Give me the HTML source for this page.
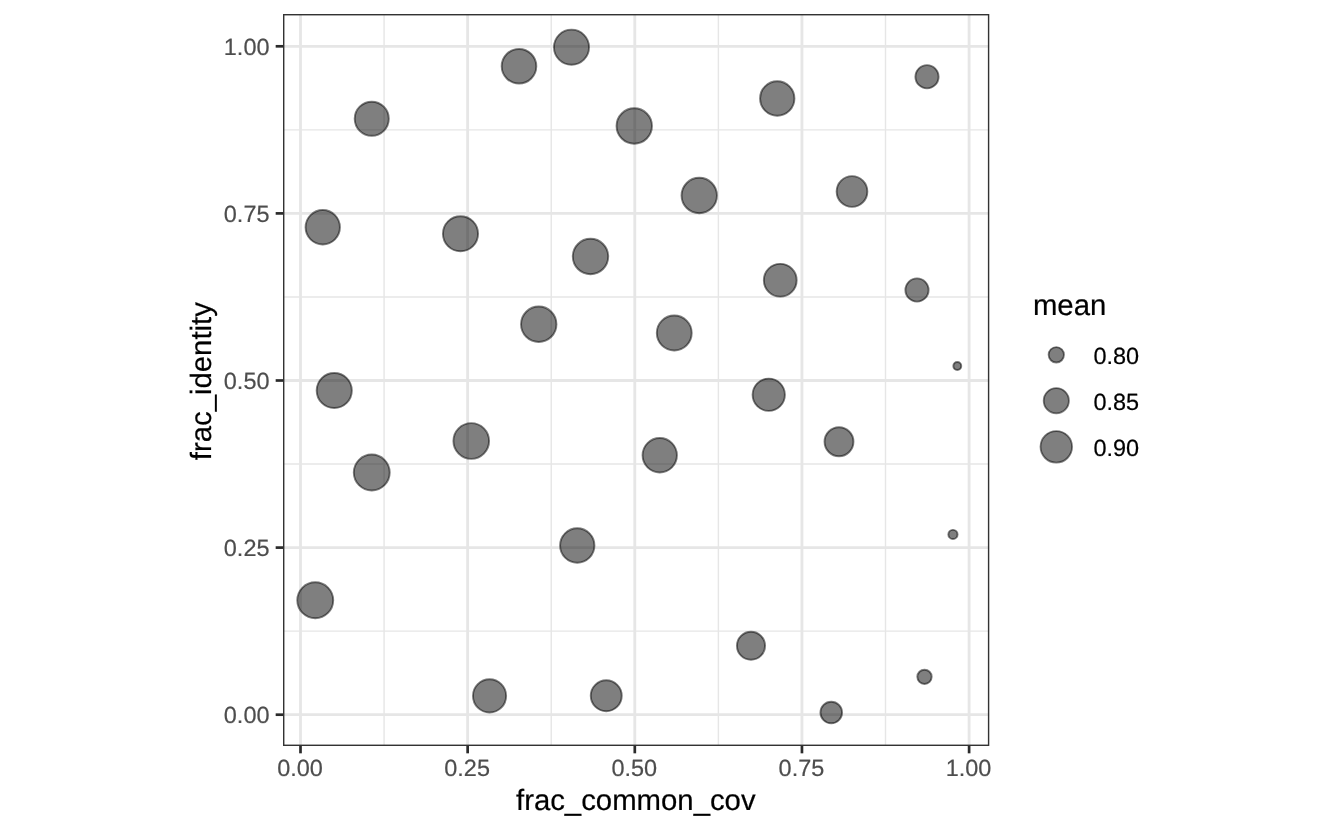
<!DOCTYPE html>
<html lang="en"><head><meta charset="utf-8"><title>plot</title>
<style>html,body{margin:0;padding:0;background:#fff}body{width:1344px;height:830px;overflow:hidden}svg{display:block}text{font-family:"Liberation Sans",Arial,Helvetica,sans-serif;text-rendering:geometricPrecision}</style></head><body>
<svg width="1344" height="830" viewBox="0 0 1344 830">
<rect width="1344" height="830" fill="#fff"/>
<defs><clipPath id="p"><rect x="283.0" y="14.0" width="706.30" height="732.00"/></clipPath></defs>
<g clip-path="url(#p)">
<g stroke="#e6e6e6" stroke-width="1.42">
<line x1="384.07" x2="384.07" y1="14.0" y2="746.0"/>
<line x1="551.23" x2="551.23" y1="14.0" y2="746.0"/>
<line x1="718.38" x2="718.38" y1="14.0" y2="746.0"/>
<line x1="885.52" x2="885.52" y1="14.0" y2="746.0"/>
<line y1="129.85" y2="129.85" x1="283.0" x2="989.3"/>
<line y1="296.95" y2="296.95" x1="283.0" x2="989.3"/>
<line y1="464.05" y2="464.05" x1="283.0" x2="989.3"/>
<line y1="631.15" y2="631.15" x1="283.0" x2="989.3"/>
</g><g stroke="#e6e6e6" stroke-width="2.84">
<line x1="300.50" x2="300.50" y1="14.0" y2="746.0"/>
<line x1="467.65" x2="467.65" y1="14.0" y2="746.0"/>
<line x1="634.80" x2="634.80" y1="14.0" y2="746.0"/>
<line x1="801.95" x2="801.95" y1="14.0" y2="746.0"/>
<line x1="969.10" x2="969.10" y1="14.0" y2="746.0"/>
<line y1="46.30" y2="46.30" x1="283.0" x2="989.3"/>
<line y1="213.40" y2="213.40" x1="283.0" x2="989.3"/>
<line y1="380.50" y2="380.50" x1="283.0" x2="989.3"/>
<line y1="547.60" y2="547.60" x1="283.0" x2="989.3"/>
<line y1="714.70" y2="714.70" x1="283.0" x2="989.3"/>
</g>
<g fill="#000" fill-opacity="0.5" stroke="#000" stroke-opacity="0.5" stroke-width="1.9">
<circle cx="571.5" cy="47.2" r="17.54"/>
<circle cx="519" cy="66.25" r="17.31"/>
<circle cx="371.75" cy="118.75" r="17.05"/>
<circle cx="634.25" cy="126" r="17.70"/>
<circle cx="777.25" cy="98.5" r="17.18"/>
<circle cx="699.25" cy="195.5" r="17.70"/>
<circle cx="852" cy="191.5" r="15.36"/>
<circle cx="927" cy="76.75" r="11.59"/>
<circle cx="322.75" cy="227.25" r="17.18"/>
<circle cx="460.5" cy="233.75" r="17.57"/>
<circle cx="590.5" cy="256.5" r="17.70"/>
<circle cx="538.75" cy="324.25" r="17.70"/>
<circle cx="334.25" cy="390.5" r="17.57"/>
<circle cx="780.25" cy="280.25" r="16.40"/>
<circle cx="674.25" cy="333" r="17.44"/>
<circle cx="768.75" cy="394.75" r="16.14"/>
<circle cx="917" cy="290" r="11.59"/>
<circle cx="957.3" cy="366.0" r="3.95"/>
<circle cx="471.25" cy="441" r="17.83"/>
<circle cx="371.75" cy="472.5" r="17.96"/>
<circle cx="577.25" cy="545.5" r="17.18"/>
<circle cx="315.25" cy="600.25" r="17.96"/>
<circle cx="659.75" cy="455.25" r="17.18"/>
<circle cx="839" cy="441.75" r="14.45"/>
<circle cx="952.95" cy="534.45" r="4.60"/>
<circle cx="489.55" cy="695.9" r="16.58"/>
<circle cx="606.25" cy="695.75" r="15.49"/>
<circle cx="751" cy="645.75" r="14.06"/>
<circle cx="831.25" cy="712.5" r="10.81"/>
<circle cx="924.5" cy="676.85" r="7.17"/>
</g>
<rect x="283.0" y="14.0" width="706.30" height="732.00" fill="none" stroke="#333" stroke-width="2.84"/>
</g>
<g stroke="#2b2b2b" stroke-width="2.7">
<line x1="275.67" x2="283.0" y1="46.30" y2="46.30"/>
<line x1="275.67" x2="283.0" y1="213.40" y2="213.40"/>
<line x1="275.67" x2="283.0" y1="380.50" y2="380.50"/>
<line x1="275.67" x2="283.0" y1="547.60" y2="547.60"/>
<line x1="275.67" x2="283.0" y1="714.70" y2="714.70"/>
<line y1="746.0" y2="753.33" x1="300.50" x2="300.50"/>
<line y1="746.0" y2="753.33" x1="467.65" x2="467.65"/>
<line y1="746.0" y2="753.33" x1="634.80" x2="634.80"/>
<line y1="746.0" y2="753.33" x1="801.95" x2="801.95"/>
<line y1="746.0" y2="753.33" x1="969.10" x2="969.10"/>
</g>
<g font-size="23.47" fill="#4d4d4d" stroke="#4d4d4d" stroke-width="0.2">
<text x="269.5" y="54.80" text-anchor="end">1.00</text>
<text x="269.5" y="221.90" text-anchor="end">0.75</text>
<text x="269.5" y="389.00" text-anchor="end">0.50</text>
<text x="269.5" y="556.10" text-anchor="end">0.25</text>
<text x="269.5" y="723.20" text-anchor="end">0.00</text>
<text x="300.00" y="776.4" text-anchor="middle">0.00</text>
<text x="467.15" y="776.4" text-anchor="middle">0.25</text>
<text x="634.30" y="776.4" text-anchor="middle">0.50</text>
<text x="801.45" y="776.4" text-anchor="middle">0.75</text>
<text x="968.60" y="776.4" text-anchor="middle">1.00</text>
</g>
<g font-size="29.33" fill="#000" stroke="#000" stroke-width="0.2">
<text x="635.8" y="809.9" text-anchor="middle">frac_common_cov</text>
<text transform="translate(210.6,381.2) rotate(-90)" text-anchor="middle">frac_identity</text>
<text x="1032.9" y="315.1">mean</text>
</g>
<g fill="#000" fill-opacity="0.5" stroke="#000" stroke-opacity="0.5" stroke-width="1.8">
<circle cx="1056.3" cy="354.8" r="7.70"/>
<circle cx="1056.3" cy="400.7" r="12.60"/>
<circle cx="1056.3" cy="446.85" r="15.77"/>
</g>
<g font-size="23.47" fill="#000" stroke="#000" stroke-width="0.2">
<text x="1093.5" y="363.50">0.80</text>
<text x="1093.5" y="409.80">0.85</text>
<text x="1093.5" y="455.80">0.90</text>
</g>
</svg></body></html>
